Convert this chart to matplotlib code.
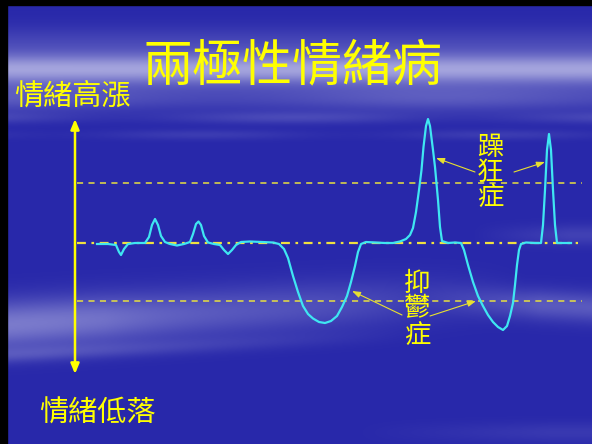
"""
Bipolar mood chart: mood swings around a neutral baseline
"""
import numpy as np
import matplotlib
matplotlib.use("Agg")
import matplotlib.pyplot as plt

plt.rcParams['font.family'] = ['Noto Sans CJK TC', 'DejaVu Sans']

W, H = 592, 444
YELLOW = "#ffff00"
CYAN = "#3fe6f2"

# Mood trace in slide pixels (x, y), y grows downwards
mood_x = [97, 108, 116, 119, 121, 124, 128, 135, 145, 149, 152, 155, 158, 161, 165,
          170, 177, 184, 190, 193, 196, 198.5, 201, 204, 208, 214, 220, 224, 228, 232,
          236, 241, 250, 262, 273, 279, 284, 288, 293, 298, 303, 308, 313, 319, 325,
          331, 337, 342, 347, 351, 355, 358, 361, 366, 375, 385, 393, 400, 406, 410,
          413, 416, 419, 421.5, 423.5, 426, 428, 430, 433, 435, 438, 440, 442, 448,
          455, 461, 464, 468, 473, 478, 483, 488, 493, 498, 503, 507, 510, 513, 515,
          517, 519, 521, 526, 535, 541, 543, 545, 547, 549, 551, 553, 555, 557, 563, 571]
mood_y = [244, 244, 245, 252, 255, 249, 244, 243, 243, 237, 225, 219, 225, 236, 242,
          244, 245.5, 244, 242, 234, 224, 221.5, 225, 236, 242.5, 244, 245, 250, 254, 250,
          245, 242, 241.5, 242, 242.5, 244, 249, 258, 276, 292, 306, 314, 318.5, 322, 323,
          321, 316, 307, 296, 282, 266, 252, 244, 242, 242.5, 243, 243, 241.5, 239, 235,
          228, 212, 190, 170, 147, 126, 119, 126, 150, 167, 200, 227, 241, 243,
          242.5, 243, 250, 265, 282, 296, 306, 315, 322, 327, 330, 326, 316, 303, 285,
          265, 250, 244, 242.5, 243, 243, 225, 190, 150, 134, 150, 190, 225, 243, 243, 243]

# Reference levels
baseline_y = 243
mania_y = 183
depression_y = 301

# Labels
title = "兩極性情緒病"
high_label = "情緒高漲"
low_label = "情緒低落"
mania_label = "躁狂症"
depression_label = "抑鬱症"

fig = plt.figure(figsize=(W / 100, H / 100), dpi=100)
ax = fig.add_axes([0, 0, 1, 1])
ax.set_xlim(0, W)
ax.set_ylim(H, 0)
ax.axis("off")

# cloudy blue backdrop
yy, xx = np.mgrid[0:H, 0:W].astype(float)
base = np.array([40, 40, 170]) / 255
light = np.array([205, 205, 238]) / 255


def band(yc, sig, amp):
    return amp * np.exp(-((yy - yc) / sig) ** 2)


w = band(70, 15, 0.72)
w += band(45, 18, 0.18)
w += band(98, 14, 0.30) * (0.8 + 0.2 * np.cos(xx / 70))
w += band(118, 6, 0.18) * (0.6 + 0.4 * np.cos(xx / 55 + 1))
w += band(135, 5, 0.12) * (0.6 + 0.4 * np.cos(xx / 47 + 2))
w += 0.50 * np.exp(-((yy - 325 + 0.06 * xx) / 24) ** 2) * np.clip(1.25 - xx / 420, 0, 1) \
    * (0.9 + 0.1 * np.cos(xx / 60))
w += 0.20 * np.exp(-((yy - 355 + 0.05 * xx) / 8) ** 2) * np.clip(1.1 - xx / 380, 0, 1)
w += 0.30 * np.exp(-((yy - 300 - 0.05 * (xx - 450)) / 15) ** 2) * np.clip((xx - 420) / 120, 0, 1)
w += 0.15 * np.exp(-((yy - 235) / 10) ** 2) * np.clip((xx - 470) / 100, 0, 1)
w += 0.10 * np.exp(-((yy - 432) / 10) ** 2) * np.clip((xx - 350) / 200, 0, 1)
w = np.clip(w, 0, 1)[..., None]
bg = base * (1 - w) + light * w
ax.imshow(bg, extent=[0, W, H, 0], aspect="auto", zorder=0)

# dark slide frame on the left and top
ax.fill_between([0, 7], 0, H, color="black", zorder=1)
ax.fill_between([0, W], 0, 5, color="black", zorder=1)

# level lines
ax.plot([77, 582], [mania_y, mania_y], color="#e8e040", lw=1.1,
        linestyle=(0, (4, 3.5)), zorder=2)
ax.plot([77, 582], [depression_y, depression_y], color="#e8e040", lw=1.1,
        linestyle=(0, (4, 3.5)), zorder=2)
ax.plot([77, 578], [baseline_y, baseline_y], color="#f0e040", lw=1.6,
        linestyle=(0, (4, 2.5, 1.2, 2.5)), zorder=2)

# mood trace
ax.plot(mood_x, mood_y, color=CYAN, lw=1.6, zorder=3, solid_joinstyle="round")

# vertical mood axis
ax.annotate("", xy=(75, 119), xytext=(75, 374),
            arrowprops=dict(arrowstyle="<|-|>,head_length=0.6,head_width=0.25",
                            color=YELLOW, lw=1.8, shrinkA=0, shrinkB=0), zorder=4)

# text
ax.text(292, 66, title, color=YELLOW, fontsize=36, ha="center", va="center", zorder=5)
ax.text(72, 97, high_label, color=YELLOW, fontsize=21, ha="center", va="center", zorder=5)
ax.text(97, 414, low_label, color=YELLOW, fontsize=21, ha="center", va="center", zorder=5)
for i, ch in enumerate(mania_label):
    ax.text(490, 147 + 25 * i, ch, color=YELLOW, fontsize=19, ha="center", va="center", zorder=5)
for i, ch in enumerate(depression_label):
    ax.text(417, 283 + 26 * i, ch, color=YELLOW, fontsize=19, ha="center", va="center", zorder=5)

# pointers from the labels to the episodes
pointers = [((475, 172), (436, 158)), ((514, 172), (545, 162)),
            ((402, 315), (352, 291)), ((430, 316), (476, 301))]
for start, end in pointers:
    ax.annotate("", xy=end, xytext=start,
                arrowprops=dict(arrowstyle="-|>,head_length=0.5,head_width=0.18",
                                color="#e8e030", lw=0.8, shrinkA=0, shrinkB=0), zorder=4)

fig.savefig("out.png", dpi=100)
